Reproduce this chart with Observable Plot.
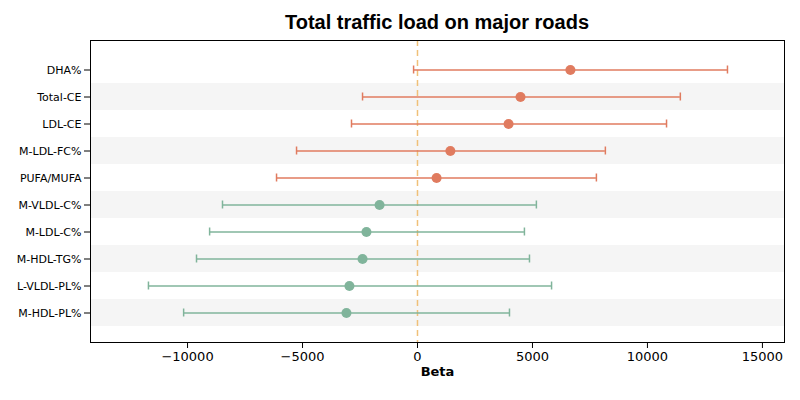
<!DOCTYPE html>
<html>
<head>
<meta charset="utf-8">
<script src="https://cdn.jsdelivr.net/npm/d3@7"></script>
<script src="https://cdn.jsdelivr.net/npm/@observablehq/plot@0.6"></script>
<style>
  body { margin: 0; background: #fff; font-family: "DejaVu Sans", sans-serif; }
  #wrap { position: relative; width: 800px; height: 400px; }
  #title { position: absolute; top: 11px; left: 90px; width: 694px; text-align: center;
    font: bold 20px "Liberation Sans", Arial, sans-serif; color: #000; }
</style>
</head>
<body>
<div id="wrap">
  <div id="title">Total traffic load on major roads</div>
  <div id="chart"></div>
</div>
<script>
// rows, top to bottom
const names = ["DHA%", "Total-CE", "LDL-CE", "M-LDL-FC%", "PUFA/MUFA",
  "M-VLDL-C%", "M-LDL-C%", "M-HDL-TG%", "L-VLDL-PL%", "M-HDL-PL%"]
const beta  = [6650, 4480, 3960, 1430, 830, -1650, -2220, -2390, -2960, -3090]
const lower = [-170, -2390, -2870, -5260, -6130, -8480, -9040, -9610, -11700, -10170]
const upper = [13480, 11430, 10830, 8170, 7780, 5170, 4650, 4870, 5830, 4000]
const group = ["up", "up", "up", "up", "up", "down", "down", "down", "down", "down"]

const xDomain = [-14220, 15960]
const data = names.map((n, i) => ({name: n, beta: beta[i], lo: lower[i], hi: upper[i], g: group[i]}))
const shaded = names.filter((n, i) => i % 2 === 1)
const fmt = d => d3.format("d")(d).replace("-", "−")

const chart = Plot.plot({
  width: 800,
  height: 400,
  marginTop: 40,
  marginLeft: 90,
  marginRight: 16,
  marginBottom: 58,
  style: {fontSize: "11px", fontFamily: "DejaVu Sans, sans-serif", color: "#000"},
  x: {domain: xDomain, label: null},
  y: {domain: names, paddingInner: 0, paddingOuter: 0.5, label: null},
  color: {domain: ["up", "down"], range: ["#e07b5f", "#80b49b"]},
  marks: [
    Plot.barX(shaded, {y: d => d, x1: xDomain[0], x2: xDomain[1], fill: "#f5f5f5"}),
    Plot.ruleX([0], {stroke: "#f0c078", strokeWidth: 1.5, strokeDasharray: "6,4"}),
    Plot.ruleY(data, {y: "name", x1: "lo", x2: "hi", stroke: "g", strokeWidth: 1.5}),
    Plot.tickX(data, {y: "name", x: "lo", stroke: "g", strokeWidth: 1.5, insetTop: 9.5, insetBottom: 9.5}),
    Plot.tickX(data, {y: "name", x: "hi", stroke: "g", strokeWidth: 1.5, insetTop: 9.5, insetBottom: 9.5}),
    Plot.dot(data, {y: "name", x: "beta", fill: "g", r: 5}),
    Plot.axisX({ticks: [-10000, -5000, 0, 5000, 10000, 15000], tickFormat: fmt, fontSize: 13, label: null}),
    Plot.axisY({fontSize: 11, label: null}),
    Plot.text(["Beta"], {frameAnchor: "bottom", dy: 33, fontWeight: "bold", fontSize: 13}),
    Plot.frame({stroke: "#000"})
  ]
})
document.getElementById("chart").append(chart)
</script>
</body>
</html>
